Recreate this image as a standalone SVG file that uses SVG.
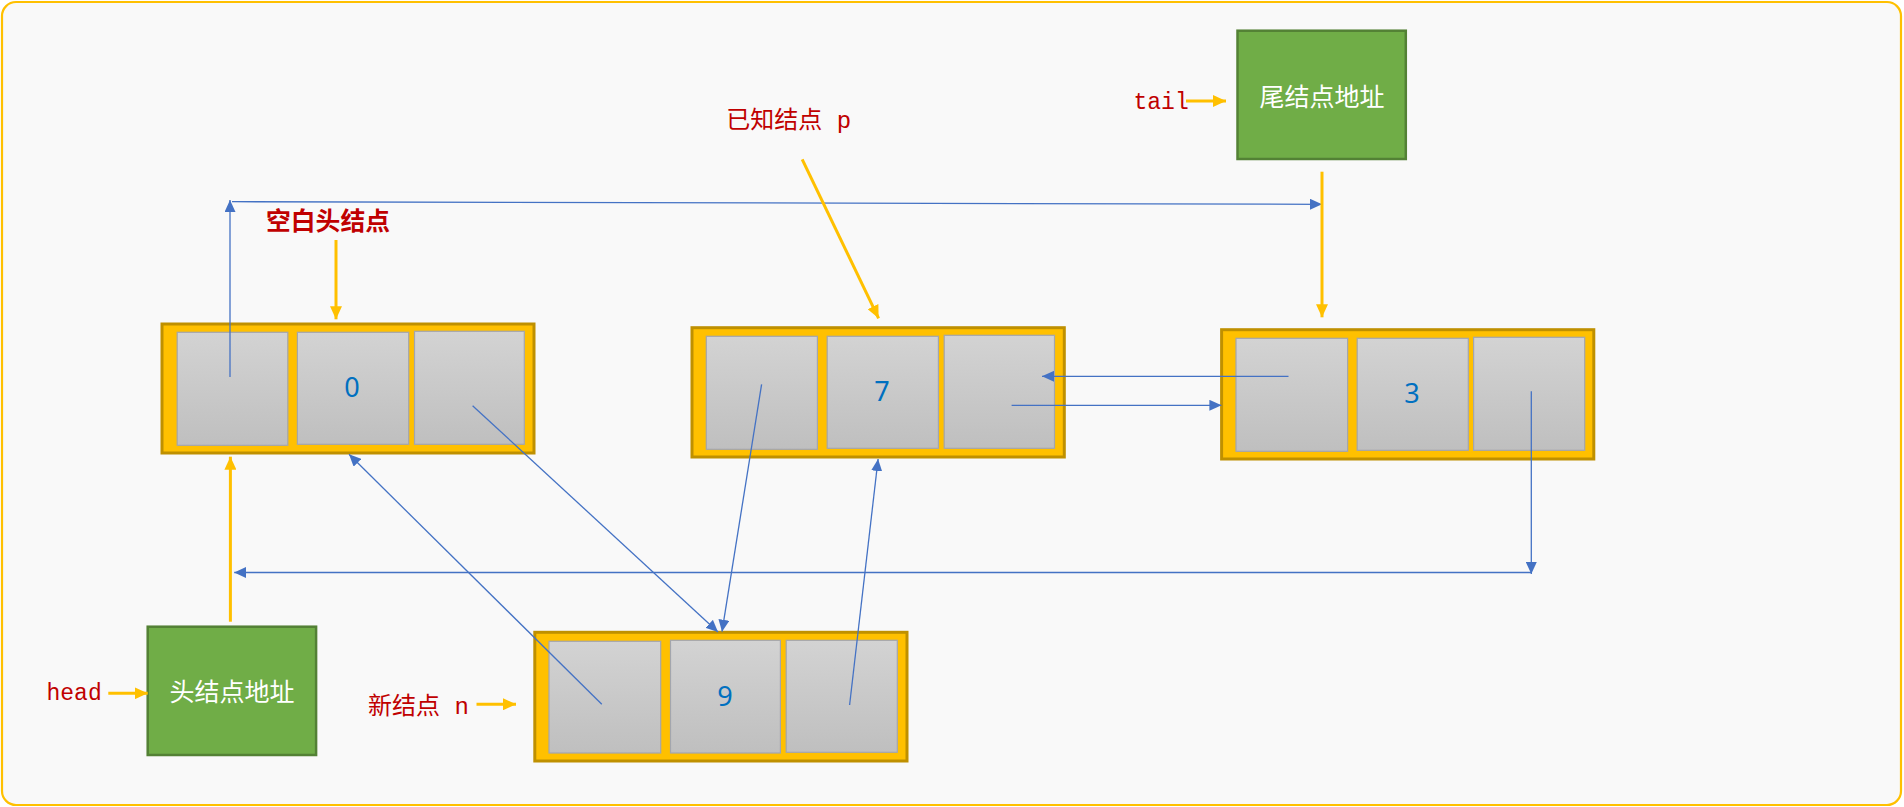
<svg xmlns="http://www.w3.org/2000/svg" width="1904" height="807" viewBox="0 0 1904 807">
<style>
.outer{fill:#FFC000;stroke:#BF9000;stroke-width:3}
.cell{fill:url(#cellGrad);stroke:#A3A6AD;stroke-width:1.2}
.digit{font-family:"Noto Sans","Open Sans",sans-serif;font-size:27px;fill:#0070C0;text-anchor:middle}
.green{fill:#70AD47;stroke:#538135;stroke-width:2.5}
.gtext{font-family:"Noto Sans CJK SC","Noto Sans",sans-serif;font-size:25px;fill:#FFFFFF;text-anchor:middle}
.red{font-family:"Liberation Mono","Noto Sans CJK SC",monospace;fill:#C00000}
.blue{stroke:#4472C4;stroke-width:1.3;fill:none;marker-end:url(#blueArrow)}
.gold{stroke:#FFC000;stroke-width:3;fill:none;marker-end:url(#goldArrow)}
</style>
<defs>
<linearGradient id="cellGrad" x1="0" y1="0" x2="0" y2="1">
<stop offset="0" stop-color="#D3D3D3"/>
<stop offset="1" stop-color="#BFBFBF"/>
</linearGradient>
<marker id="blueArrow" markerWidth="12" markerHeight="11" refX="12" refY="5.5" orient="auto" markerUnits="userSpaceOnUse"><path d="M0,0 L12,5.5 L0,11 z" fill="#4472C4"/></marker>
<marker id="goldArrow" markerWidth="13" markerHeight="12" refX="13" refY="6" orient="auto" markerUnits="userSpaceOnUse"><path d="M0,0 L13,6 L0,12 z" fill="#FFC000"/></marker>
</defs>
<rect x="0" y="0" width="1904" height="807" fill="#FFFFFF"/>
<rect x="2" y="2" width="1899" height="803" rx="14" fill="#F9F9F9" stroke="#FFC000" stroke-width="2.2"/>

<g id="node0">
<rect class="outer" x="162" y="324" width="372" height="129"/>
<rect class="cell" x="177.2" y="332.3" width="110.6" height="113"/>
<rect class="cell" x="297.4" y="332.3" width="111.3" height="112"/>
<rect class="cell" x="414.5" y="331.3" width="109.8" height="113"/>
<text class="digit" x="352" y="397">0</text>
</g>
<g id="node7">
<rect class="outer" x="692" y="327.7" width="372.3" height="129.3"/>
<rect class="cell" x="706.3" y="336.3" width="111.1" height="113"/>
<rect class="cell" x="827.2" y="336.3" width="111.2" height="112"/>
<rect class="cell" x="944.2" y="335.3" width="110.3" height="113"/>
<text class="digit" x="882" y="401">7</text>
</g>
<g id="node3">
<rect class="outer" x="1221.6" y="329.7" width="372.2" height="129.3"/>
<rect class="cell" x="1236" y="338.3" width="111.6" height="113"/>
<rect class="cell" x="1357.2" y="338.3" width="111.1" height="112"/>
<rect class="cell" x="1473.6" y="337.3" width="111.1" height="113"/>
<text class="digit" x="1412" y="403">3</text>
</g>
<g id="node9">
<rect class="outer" x="534.8" y="632.3" width="372.2" height="128.7"/>
<rect class="cell" x="549" y="641.3" width="111.7" height="111.7"/>
<rect class="cell" x="670.5" y="640.3" width="109.9" height="112.7"/>
<rect class="cell" x="786.2" y="640.3" width="111.1" height="112"/>
<text class="digit" x="725" y="706">9</text>
</g>
<g id="headBox">
<rect class="green" x="147.7" y="626.7" width="168.4" height="128.3"/>
<text class="gtext" x="232" y="701">头结点地址</text>
</g>
<g id="tailBox">
<rect class="green" x="1237.5" y="30.7" width="168.3" height="128.3"/>
<text class="gtext" x="1322" y="106">尾结点地址</text>
</g>
<g id="labels">
<text class="red" x="46.5" y="700" font-size="23">head</text>
<text class="red" x="1133.5" y="109" font-size="23">tail</text>
<text class="red" x="726.3" y="128.3" font-size="24">已知结点 p</text>
<text class="red" x="368" y="713.6" font-size="24">新结点 n</text>
<text x="266" y="229.5" font-family="Noto Sans CJK SC, sans-serif" font-size="24.8" font-weight="bold" fill="#C00000">空白头结点</text>
</g>
<g id="connectors">
<path class="blue" d="M230,377 L230,200"/>
<path class="blue" d="M232,201.7 L1322,204.3"/>
<path class="blue" d="M1288.5,376.3 L1042,376.3"/>
<path class="blue" d="M1011.6,405.3 L1221.4,405.3"/>
<path class="blue" d="M1531.3,391.3 L1531.3,574"/>
<path class="blue" d="M1531.3,572.5 L234.2,572.5"/>
<path class="blue" d="M472.6,405.7 L718,632"/>
<path class="blue" d="M601.8,704.3 L349,454.3"/>
<path class="blue" d="M761.6,384.3 L722,631.7"/>
<path class="blue" d="M849.6,705 L878.1,459"/>
<path class="gold" d="M1186,101 L1226,101"/>
<path class="gold" d="M108.3,693.3 L147.7,693.3"/>
<path class="gold" d="M476.5,704.3 L516,704.3"/>
<path class="gold" d="M336,240 L336,319.3"/>
<path class="gold" d="M802.2,159.3 L878.6,318.3"/>
<path class="gold" d="M1322,171.7 L1322,317.3"/>
<path class="gold" d="M230.4,621.7 L230.4,456.7"/>
</g>
</svg>
